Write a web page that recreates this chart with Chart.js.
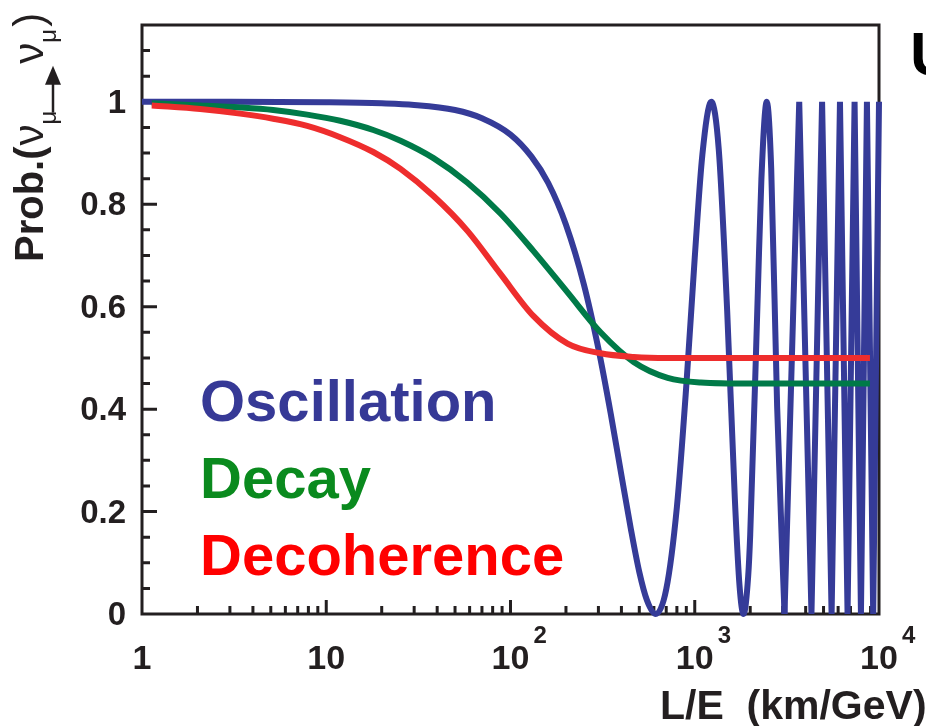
<!DOCTYPE html>
<html>
<head>
<meta charset="utf-8">
<title>Prob. vs L/E</title>
<script src="https://cdn.jsdelivr.net/npm/chart.js"></script>
<style>
  html, body { margin: 0; padding: 0; background: #fff; }
  #wrap { width: 926px; height: 726px; }
</style>
</head>
<body>
<div id="wrap"><canvas id="chart" width="926" height="726"></canvas></div>
<script>
// ---- values (L/E in km/GeV, survival probability) ----
const oscLE = [1, 3, 10, 20, 30, 50, 70, 100, 130, 160, 200, 250, 300, 350, 400, 450, 500, 550, 614, 700, 800, 900, 1000, 1100, 1230, 1350, 1500, 1650, 1750, 1840, 1950, 2000, 2200, 2300, 2460, 2600, 2800, 3070];
const oscP  = [1.0, 1.0, 0.999, 0.997, 0.994, 0.984, 0.968, 0.936, 0.893, 0.842, 0.760, 0.644, 0.518, 0.391, 0.271, 0.166, 0.082, 0.027, 0.0, 0.048, 0.209, 0.446, 0.696, 0.897, 1.0, 0.907, 0.591, 0.226, 0.055, 0.0, 0.074, 0.155, 0.629, 0.849, 1.0, 0.870, 0.405, 0.0];
// fast oscillation region, drawn with straight segments
const oscFastLE = [3070, 3690, 4300, 4910, 5530, 6140, 6750, 7370, 7980, 8600, 9300, 10000];
const oscFastP  = [0, 1, 0, 1, 0, 1, 0, 1, 0, 1, 0, 1];

const decayLE = [1.13, 2.07, 3.41, 5.15, 7.88, 11.9, 18.0, 25.3, 38.2, 58.4, 88.2, 133, 204, 308, 466, 713, 1078, 2000, 8930];
const decayP  = [0.997, 0.993, 0.989, 0.984, 0.975, 0.963, 0.945, 0.924, 0.890, 0.842, 0.782, 0.709, 0.628, 0.550, 0.492, 0.461, 0.452, 0.450, 0.450];

const decohLE = [1.13, 2.07, 3.41, 5.15, 7.88, 11.9, 18.0, 25.3, 38.2, 58.4, 88.2, 133, 204, 308, 466, 713, 2000, 8930];
const decohP  = [0.993, 0.986, 0.977, 0.967, 0.953, 0.931, 0.902, 0.869, 0.816, 0.748, 0.664, 0.582, 0.528, 0.509, 0.502, 0.500, 0.500, 0.500];

const seriesNames = ['Oscillation', 'Decay', 'Decoherence'];

const yTicks = [0, 0.2, 0.4, 0.6, 0.8, 1];
const yTickLabels = ['0', '0.2', '0.4', '0.6', '0.8', '1'];
const xTicks = [1, 10, 100, 1000, 10000];
const xTickBase = ['1', '10', '10', '10', '10'];
const xTickExp = ['', '', '2', '3', '4'];

// colours
const BLUE = '#353b98';
const GREEN = '#007a48';
const RED = '#ee2d2d';
const INK = '#231f20';
const FONT = '"Liberation Sans", Arial, Helvetica, sans-serif';

const toXY = (xs, ys) => xs.map((v, i) => ({ x: v, y: ys[i] }));

// ---- frame, inward ticks and all text drawn against the chart scales ----
const framePlugin = {
    id: 'frame',
    beforeDatasetsDraw(chart) {
        const { ctx, chartArea: a, scales: { x, y } } = chart;
        ctx.save();
        ctx.strokeStyle = INK;
        ctx.lineWidth = 3;
        ctx.strokeRect(a.left, a.top, a.right - a.left, a.bottom - a.top);

        ctx.lineWidth = 3;
        ctx.beginPath();
        // y ticks every 0.05, long ones on the labelled values
        for (let i = 1; i <= 22; i++) {
            const py = y.getPixelForValue(i * 0.05);
            const len = (i % 4 === 0) ? 15 : 8;
            ctx.moveTo(a.left, py);
            ctx.lineTo(a.left + len, py);
        }
        // x ticks, decades long, 2..9 short
        for (let d = 0; d < 4; d++) {
            const dec = Math.pow(10, d);
            for (let m = 2; m <= 10; m++) {
                if (d === 3 && m === 10) continue;
                const px = x.getPixelForValue(dec * m);
                const len = (m === 10) ? 14 : 8;
                ctx.moveTo(px, a.bottom);
                ctx.lineTo(px, a.bottom - len);
            }
        }
        ctx.stroke();
        ctx.restore();
    },
    afterDraw(chart) {
        const { ctx, scales: { x, y } } = chart;
        ctx.save();
        ctx.fillStyle = INK;

        // y tick labels
        ctx.font = 'bold 33px ' + FONT;
        ctx.textAlign = 'right';
        ctx.textBaseline = 'middle';
        yTicks.forEach((v, i) => {
            ctx.fillText(yTickLabels[i], 126, y.getPixelForValue(v) + 2);
        });

        // x tick labels with exponents
        ctx.textBaseline = 'alphabetic';
        xTicks.forEach((v, i) => {
            const px = x.getPixelForValue(v);
            ctx.font = 'bold 34px ' + FONT;
            ctx.textAlign = 'center';
            ctx.fillText(xTickBase[i], px, 669);
            if (xTickExp[i]) {
                const w = ctx.measureText(xTickBase[i]).width;
                ctx.font = 'bold 24px ' + FONT;
                ctx.textAlign = 'left';
                ctx.fillText(xTickExp[i], px + w / 2 + 4, 643);
            }
        });

        // x axis title
        ctx.font = 'bold 41px ' + FONT;
        ctx.textAlign = 'left';
        ctx.fillText('L/E  (km/GeV)', 660, 719);

        // cut-off letter at top right
        ctx.fillStyle = '#000';
        ctx.font = 'bold 62px ' + FONT;
        ctx.fillText('U', 910, 75);

        // series names
        const colors = ['#363996', '#0a8a1e', '#ff0000'];
        const baselines = [421, 498, 575];
        ctx.font = 'bold 58px ' + FONT;
        seriesNames.forEach((name, i) => {
            ctx.fillStyle = colors[i];
            ctx.fillText(name, 200, baselines[i]);
        });

        // y axis title, rotated: Prob.(nu_mu -> nu_mu)
        ctx.fillStyle = INK;
        ctx.strokeStyle = INK;
        ctx.translate(43, 262);
        ctx.rotate(-Math.PI / 2);
        ctx.textAlign = 'left';
        let u = 0;
        ctx.font = 'bold 40px ' + FONT;
        ctx.fillText('Prob.(', u, 0);
        u += ctx.measureText('Prob.(').width + 1;
        ctx.font = '42px ' + FONT;
        ctx.fillText('ν', u, 0);
        u += ctx.measureText('ν').width;
        ctx.font = '24px ' + FONT;
        ctx.fillText('μ', u, 13);
        u += ctx.measureText('μ').width - 2;
        ctx.lineWidth = 2.5;
        ctx.beginPath();
        ctx.moveTo(u, 10);
        ctx.lineTo(u + 30, 10);
        ctx.stroke();
        ctx.beginPath();
        ctx.moveTo(u + 47, 10);
        ctx.lineTo(u + 28, 2);
        ctx.lineTo(u + 28, 18);
        ctx.closePath();
        ctx.fill();
        u += 49;
        ctx.font = '42px ' + FONT;
        ctx.fillText('ν', u, 0);
        u += ctx.measureText('ν').width;
        ctx.font = '24px ' + FONT;
        ctx.fillText('μ', u, 13);
        u += ctx.measureText('μ').width + 2;
        ctx.font = '42px ' + FONT;
        ctx.fillText(')', u, 0);
        ctx.restore();
    }
};

const lineStyle = {
    borderWidth: 6,
    pointRadius: 0,
    fill: false,
    clip: false,
    borderCapStyle: 'butt'
};

new Chart(document.getElementById('chart'), {
    type: 'line',
    data: {
        datasets: [
            { ...lineStyle, label: seriesNames[2], data: toXY(decohLE, decohP), borderColor: RED, cubicInterpolationMode: 'monotone', borderJoinStyle: 'round' },
            { ...lineStyle, label: seriesNames[1], data: toXY(decayLE, decayP), borderColor: GREEN, cubicInterpolationMode: 'monotone', borderJoinStyle: 'round' },
            { ...lineStyle, label: seriesNames[0], data: toXY(oscLE, oscP), borderColor: BLUE, cubicInterpolationMode: 'monotone', borderJoinStyle: 'round' },
            { ...lineStyle, label: seriesNames[0], data: toXY(oscFastLE, oscFastP), borderColor: BLUE, tension: 0, borderJoinStyle: 'miter' }
        ]
    },
    options: {
        responsive: false,
        animation: false,
        devicePixelRatio: 1,
        layout: { padding: { left: 142, right: 47, top: 25, bottom: 112 } },
        scales: {
            x: { type: 'logarithmic', min: 1, max: 10000, display: false },
            y: { type: 'linear', min: 0, max: 1.15, display: false }
        },
        plugins: { legend: { display: false }, tooltip: { enabled: false } },
        events: []
    },
    plugins: [framePlugin]
});
</script>
</body>
</html>
